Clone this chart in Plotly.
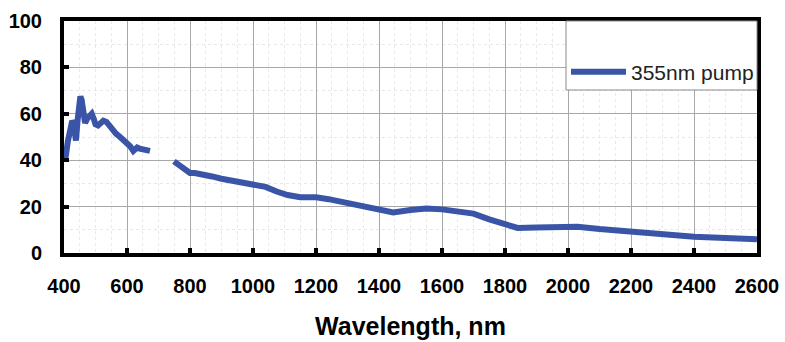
import plotly.graph_objects as go

# Segment 1 (UV-visible part)
wl_1 = [402, 406, 412, 420, 426, 430, 434, 438, 443, 448, 452, 456, 461, 467, 474, 481, 488, 494,
        500, 508, 515, 525, 535, 545, 555, 565, 578, 590, 600, 610, 620, 626, 632, 640, 650, 660, 673]
val_1 = [40, 42, 48, 55, 57, 56, 50, 48.5, 57, 67, 67.5, 66, 61, 56, 58, 59.5, 60, 58,
         55.5, 55, 56, 57, 56.5, 54.5, 53, 51.5, 50, 48.5, 47.5, 46, 44, 45, 45.5, 45, 44.5, 44.5, 44]

# Segment 2 (NIR part)
wl_2 = [749, 760, 775, 790, 800, 815, 840, 870, 900, 940, 980, 1010, 1040, 1075, 1110, 1150, 1200,
        1240, 1290, 1340, 1400, 1445, 1500, 1550, 1600, 1660, 1700, 1750, 1800, 1840, 1900, 2000,
        2030, 2100, 2200, 2300, 2400, 2500, 2600]
val_2 = [39.5, 38.5, 37.5, 36, 34.5, 34.5, 34, 33, 32, 31, 30, 29.5, 28.5, 26.5, 25, 24, 24,
         23.2, 21.8, 20, 18.5, 17.5, 18.5, 19.2, 18.8, 18, 17, 14.5, 12.3, 10.8, 11, 11.3,
         11.3, 10.3, 9.2, 8.0, 7.0, 6.5, 5.9]

wavelength = wl_1 + [None] + wl_2
values = val_1 + [None] + val_2

x_ticks = [400, 600, 800, 1000, 1200, 1400, 1600, 1800, 2000, 2200, 2400, 2600]
y_ticks = [0, 20, 40, 60, 80, 100]
series_name = "355nm pump"
x_title = "Wavelength, nm"

LINE_COLOR = "#3a55a8"
FONT = "Liberation Sans, Arial, sans-serif"

fig = go.Figure()
fig.add_trace(go.Scatter(x=wavelength, y=values, mode="lines", name=series_name,
                         connectgaps=False,
                         line=dict(color=LINE_COLOR, width=6)))

axis_common = dict(
    showline=True, linecolor="black", linewidth=4, mirror=True,
    ticks="inside", ticklen=5, tickwidth=4, tickcolor="black",
    showgrid=True, gridcolor="#a8a8a8", gridwidth=1,
    zeroline=False, automargin=False,
    tickfont=dict(family=FONT, size=20, color="black", weight="bold"),
)

fig.update_xaxes(range=[400, 2600], tickvals=x_ticks, ticktext=[str(v) for v in x_ticks],
                 minor=dict(dtick=50, tick0=400, showgrid=True, gridcolor="#e8e8e8", griddash="dot", ticks=""),
                 title=dict(text=x_title, font=dict(family=FONT, size=25, color="black", weight="bold"),
                            standoff=22),
                 ticklabelstandoff=12,
                 **axis_common)
fig.update_yaxes(range=[0, 100], tickvals=y_ticks, ticktext=[str(v) for v in y_ticks],
                 minor=dict(dtick=10, tick0=0, showgrid=True, gridcolor="#e8e8e8", griddash="dot", ticks=""),
                 ticklabelstandoff=14,
                 **axis_common)

# legend box
fig.add_shape(type="rect", xref="x domain", yref="y domain", x0=0.7244, x1=1.0, y0=0.7026, y1=1.0,
              fillcolor="white", line=dict(color="#8a8a8a", width=1), layer="above")

fig.update_layout(
    width=785, height=342,
    margin=dict(l=64, r=28, t=21, b=89, autoexpand=False),
    paper_bgcolor="white", plot_bgcolor="white",
    showlegend=True,
    legend=dict(x=(566 - 64) / 693, y=(253 - 72) / 232, xanchor="left", yanchor="middle",
                xref="paper", yref="paper",
                bgcolor="rgba(0,0,0,0)", borderwidth=0, itemwidth=55,
                font=dict(family=FONT, size=21, color="#222222")),
)

fig.write_html("out.html", config={"displayModeBar": False},
               post_script="document.body.style.margin='0';document.body.style.overflow='hidden';")
